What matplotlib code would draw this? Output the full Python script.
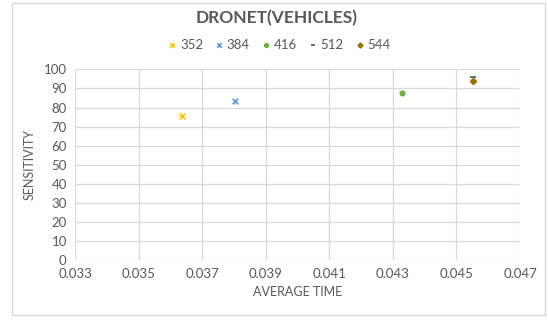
import matplotlib
matplotlib.use("Agg")
from matplotlib import pyplot as plt
from matplotlib.patches import Rectangle

# values
series_names = ["352", "384", "416", "512", "544"]
avg_time = [0.03635, 0.03803, 0.0433, 0.04552, 0.04552]
sensitivity = [75.6, 83.7, 87.7, 95.8, 94.0]

x_ticks = [0.033, 0.035, 0.037, 0.039, 0.041, 0.043, 0.045, 0.047]
y_ticks = list(range(0, 101, 10))

colors = ["#FFC000", "#5B9BD5", "#70AD47", "#44546A", "#997300"]
markers = ["x", "x", "o", "_", "D"]
sizes = [16, 16, 10, 20, 9]

plt.rcParams['font.family'] = ['Lato', 'DejaVu Sans']
text_color = "#595959"

fig = plt.figure(figsize=(5.48, 3.20), dpi=100)
ax = fig.add_axes([0.137, 0.1875, 0.812, 0.5955])

for name, x, y, c, m, s in zip(series_names, avg_time, sensitivity, colors, markers, sizes):
    ax.scatter([x], [y], color=c, marker=m, s=s, linewidths=1.2, label=name, zorder=3)

ax.set_xlim(0.033, 0.047)
ax.set_ylim(0, 100)
ax.set_xticks(x_ticks)
ax.set_xticklabels([f"{t:.3f}" for t in x_ticks])
ax.set_yticks(y_ticks)
ax.grid(True, color="#D9D9D9", linewidth=0.9)
ax.set_axisbelow(True)
for sp in ax.spines.values():
    sp.set_visible(False)
ax.tick_params(length=0, labelsize=9.5, colors=text_color, pad=6)

ax.set_xlabel("AVERAGE TIME", fontsize=9, color=text_color, labelpad=4)
ax.set_ylabel("SENSITIVITY", fontsize=9, color=text_color, labelpad=6)

fig.text(0.505, 0.944, "DRONET(VEHICLES)", ha="center", va="center",
         fontsize=12.5, fontweight="bold", color=text_color)
fig.legend(loc="center", bbox_to_anchor=(0.51, 0.86), ncol=5, frameon=False,
           fontsize=9.5, handlelength=0.6, handletextpad=0.3, columnspacing=0.9,
           labelcolor=text_color, markerscale=0.8)

fig.patches.append(Rectangle((12 / 548, 5 / 320), 533 / 548, 312 / 320,
                             transform=fig.transFigure, fill=False,
                             edgecolor="#D9D9D9", linewidth=1))

fig.savefig("out.png", dpi=100)
